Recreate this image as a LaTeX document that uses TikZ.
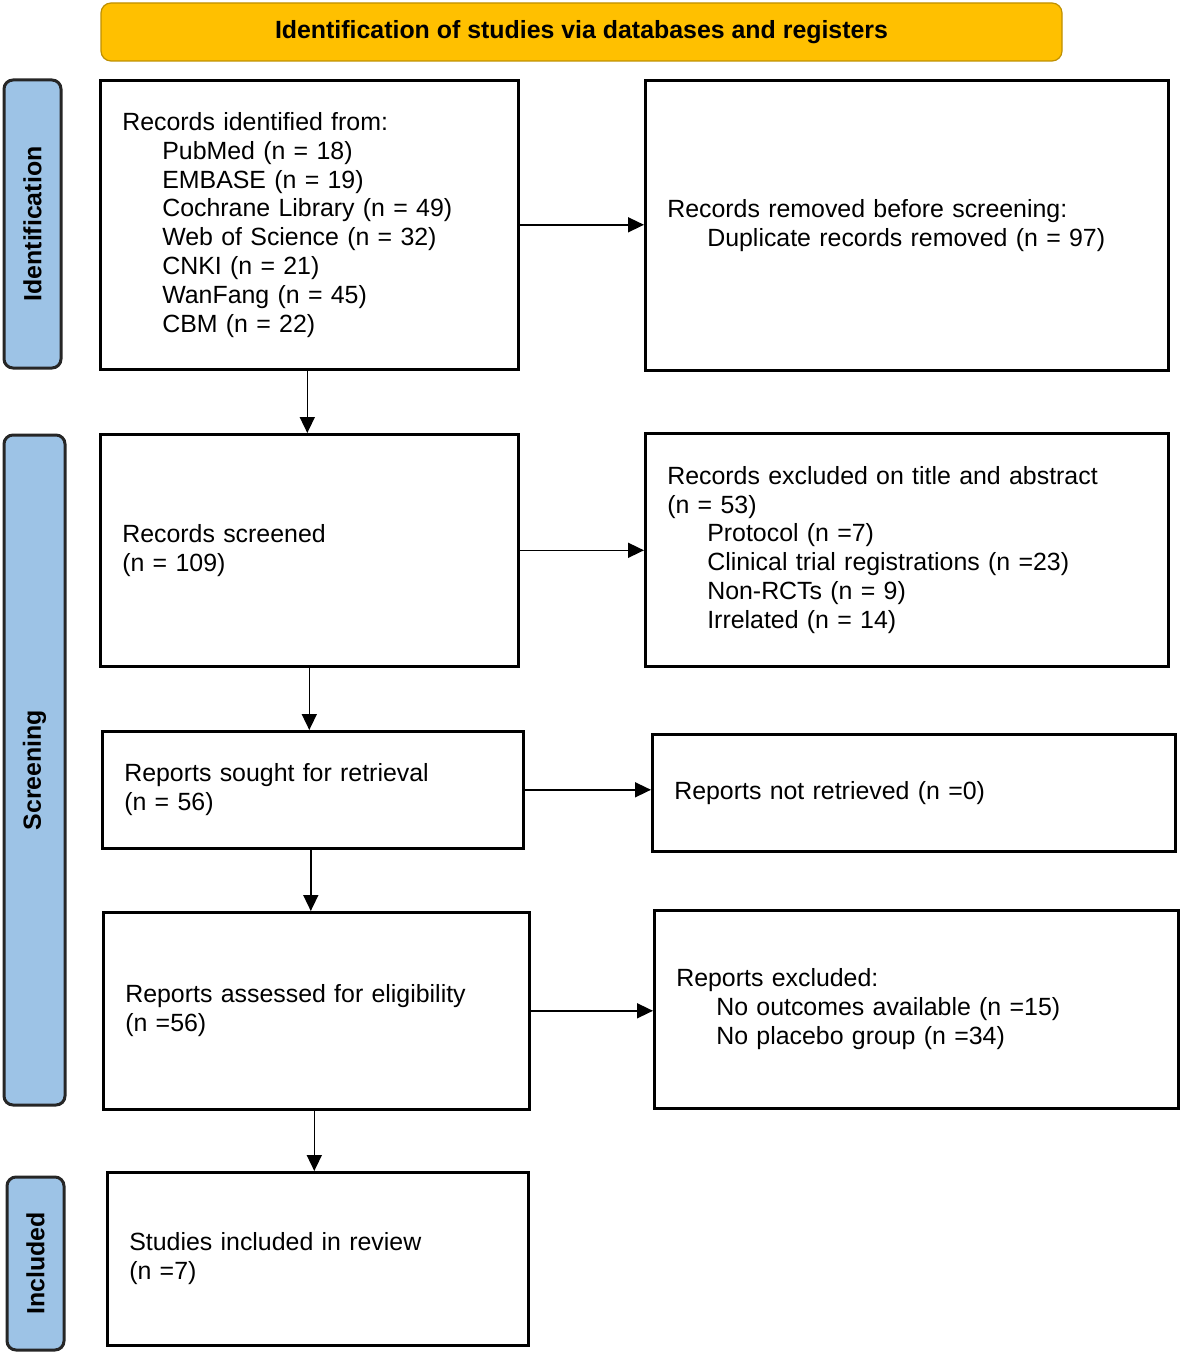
\documentclass[tikz,border=0pt]{standalone}
\usepackage{fontspec}
\setmainfont{Liberation Sans}
\usepackage{xcolor}
\usetikzlibrary{positioning,arrows.meta}
\definecolor{prgold}{RGB}{255,192,0}
\definecolor{prgoldline}{RGB}{191,144,0}
\definecolor{prblue}{RGB}{157,195,230}
\newcommand{\ind}{\hspace*{20pt}}
\newcommand{\prsize}{\fontsize{12.45}{14.4}\selectfont}

\tikzset{
  box/.style={draw, line width=1.3pt, rectangle, anchor=north west,
    align=left, inner xsep=11pt, inner ysep=0pt},
  phase/.style={draw=black!85, line width=1.5pt, fill=prblue,
    rounded corners=4.5pt, rotate=90, font=\prsize\bfseries, inner sep=0pt},
  arrow/.style={-{Triangle[length=8pt,width=7.5pt]}, line width=0.8pt}
}

\begin{document}
\begin{tikzpicture}[font=\prsize]
\useasboundingbox (0,0) rectangle (590.5pt,-677pt);

% header
\node[draw=prgoldline, line width=0.6pt, fill=prgold, rounded corners=5pt,
  minimum width=480.5pt, minimum height=29pt, font=\prsize\bfseries, inner sep=0pt]
  (head) at (290.75pt,-16pt) {Identification of studies via databases and registers};

% phases
\node[phase, minimum width=144pt, minimum height=28.5pt] (ident) at (16.25pt,-112pt) {Identification};
\node[phase, minimum width=335pt, minimum height=30.5pt] (screen) at (17.25pt,-385pt) {Screening};
\node[phase, minimum width=86.5pt, minimum height=28.5pt] (incl) at (17.75pt,-631.75pt) {Included};

% boxes
\node[box, text width=187pt, minimum height=144.5pt] (found) at (49.5pt,-39.5pt)
  {Records identified from:\\
   \ind PubMed (n = 18)\\
   \ind EMBASE (n = 19)\\
   \ind Cochrane Library (n = 49)\\
   \ind Web of Science (n = 32)\\
   \ind CNKI (n = 21)\\
   \ind WanFang (n = 45)\\
   \ind CBM (n = 22)};
\node[box, text width=239.5pt, minimum height=145pt] (removed) at (322pt,-39.5pt)
  {Records removed before screening:\\
   \ind Duplicate records removed (n = 97)};

\node[box, text width=187pt, minimum height=116pt] (screened) at (49.5pt,-216.5pt)
  {Records screened\\(n = 109)};
\node[box, text width=239.5pt, minimum height=116.5pt] (excl) at (322pt,-216pt)
  {Records excluded on title and abstract\\
   (n = 53)\\
   \ind Protocol (n =7)\\
   \ind Clinical trial registrations (n =23)\\
   \ind Non-RCTs (n = 9)\\
   \ind Irrelated (n = 14)};

\node[box, text width=188.5pt, minimum height=58.5pt] (sought) at (50.5pt,-365pt)
  {Reports sought for retrieval\\(n = 56)};
\node[box, text width=239.5pt, minimum height=58.5pt] (notret) at (325.5pt,-366.5pt)
  {Reports not retrieved (n =0)};

\node[box, text width=191pt, minimum height=98.5pt] (assess) at (51pt,-455.5pt)
  {Reports assessed for eligibility\\(n =56)};
\node[box, text width=240pt, minimum height=99pt] (repexcl) at (326.5pt,-454.5pt)
  {Reports excluded:\\
   \ind No outcomes available (n =15)\\
   \ind No placebo group (n =34)};

\node[box, text width=188.5pt, minimum height=86.5pt] (studies) at (53pt,-585.5pt)
  {Studies included in review\\(n =7)};

% arrows
\draw[arrow] (found.east) -- (found.east -| removed.west);
\draw[arrow] (screened.east) -- (screened.east -| excl.west);
\draw[arrow] (sought.east) -- (sought.east -| notret.west);
\draw[arrow] (assess.east) -- (assess.east -| repexcl.west);
\draw[arrow] ([xshift=-1pt]found.south) -- ([xshift=-1pt]found.south |- screened.north);
\draw[arrow] (screened.south) -- (screened.south |- sought.north);
\draw[arrow] ([xshift=-1pt]sought.south) -- ([xshift=-1pt]sought.south |- assess.north);
\draw[arrow] ([xshift=-1pt]assess.south) -- ([xshift=-1pt]assess.south |- studies.north);
\end{tikzpicture}
\end{document}
